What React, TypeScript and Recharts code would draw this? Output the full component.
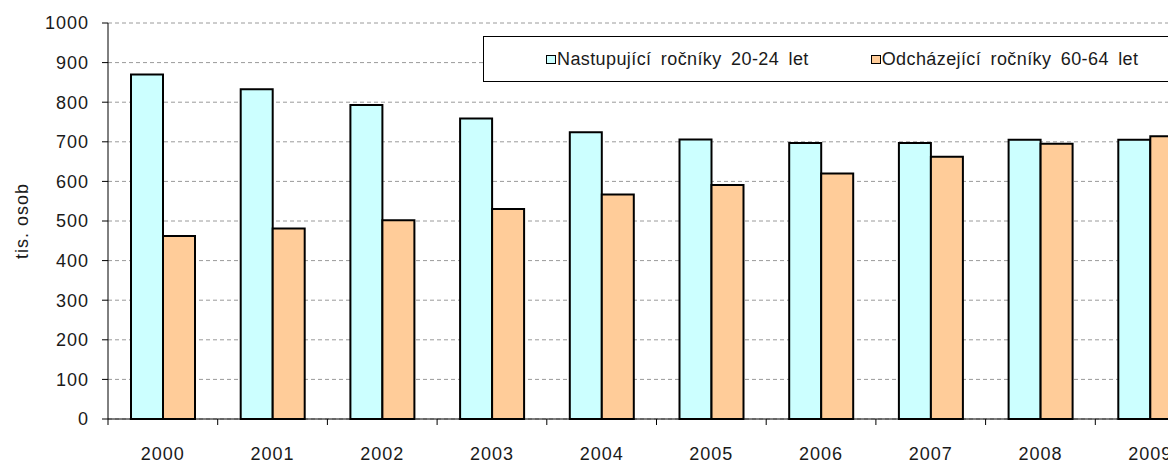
import { BarChart, Bar, XAxis, YAxis, CartesianGrid, Legend } from 'recharts'

const YEARS = ['2000', '2001', '2002', '2003', '2004', '2005', '2006', '2007', '2008', '2009']
const ENTERING = [870, 833, 793, 759, 724, 706, 697, 697, 705, 705]
const LEAVING = [462, 481, 502, 530, 567, 591, 620, 662, 695, 714]
const Y_TICKS = [0, 100, 200, 300, 400, 500, 600, 700, 800, 900, 1000]

const SERIES = [
  { key: 'entering', name: 'Nastupující ročníky 20-24 let', color: '#CCFFFF' },
  { key: 'leaving', name: 'Odcházející ročníky 60-64 let', color: '#FFCC99' },
]

const data = YEARS.map((year, i) => ({ year, entering: ENTERING[i], leaving: LEAVING[i] }))

const FONT = '"Liberation Sans", Arial, sans-serif'
const TEXT = '#1a1a1a'

function YearTick(props: any) {
  const { x, y, payload } = props
  const half = payload?.offset ?? 0
  return (
    <g>
      <line x1={x - half} x2={x - half} y1={y} y2={y + 6} stroke="#000" strokeWidth={1} />
      <text x={x} y={y + 41} textAnchor="middle" fontSize={18} fill={TEXT} fontFamily={FONT} letterSpacing={1}>
        {payload.value}
      </text>
    </g>
  )
}

function LegendBox() {
  return (
    <div
      style={{
        display: 'flex',
        alignItems: 'center',
        height: 44,
        paddingLeft: 62,
        fontFamily: FONT,
        fontSize: 18,
        letterSpacing: 0.4,
        wordSpacing: 4,
        color: TEXT,
      }}
    >
      {SERIES.map((s, i) => (
        <div key={s.key} style={{ display: 'flex', alignItems: 'center', marginRight: i === 0 ? 62 : 0 }}>
          <span
            style={{
              display: 'inline-block',
              width: 8,
              height: 7,
              border: '1.5px solid #000',
              background: s.color,
              marginRight: 1,
            }}
          />
          <span>{s.name}</span>
        </div>
      ))}
    </div>
  )
}

export default function App() {
  return (
    <div
      style={{
        position: 'absolute',
        left: 0,
        top: 0,
        width: 1168,
        height: 460,
        overflow: 'hidden',
        background: '#fff',
      }}
    >
      <BarChart
        width={1240}
        height={480}
        data={data}
        margin={{ top: 23, right: 35, left: 0, bottom: 0 }}
        barGap={0}
        barSize={32}
      >
        <CartesianGrid vertical={false} stroke="#9a9a9a" strokeDasharray="4 3" />
        <XAxis
          dataKey="year"
          height={61}
          interval={0}
          tickSize={0}
          tickMargin={0}
          tickLine={false}
          axisLine={{ stroke: '#000' }}
          tick={<YearTick />}
        />
        <YAxis
          domain={[0, 1000]}
          ticks={Y_TICKS}
          interval={0}
          width={108}
          tickSize={6}
          tickMargin={13}
          axisLine={{ stroke: '#000' }}
          tickLine={{ stroke: '#000' }}
          tick={{ fontSize: 18, fill: TEXT, fontFamily: FONT, letterSpacing: 1 }}
          label={{
            content: (p: any) => {
              const vb = p.viewBox || { x: 0, y: 23, width: 108, height: 396 }
              const cx = vb.x + 22
              const cy = vb.y + vb.height / 2
              return (
                <text
                  x={cx}
                  y={cy}
                  transform={`rotate(-90, ${cx}, ${cy})`}
                  textAnchor="middle"
                  dominantBaseline="central"
                  fontSize={18}
                  fill={TEXT}
                  fontFamily={FONT}
                  letterSpacing={1}
                >
                  tis. osob
                </text>
              )
            },
          }}
        />
        <Legend
          layout="horizontal"
          verticalAlign="middle"
          align="center"
          content={<LegendBox />}
          wrapperStyle={{
            position: 'absolute',
            top: 36,
            left: 483,
            width: 760,
            height: 46,
            border: '1.5px solid #000',
            background: '#fff',
            boxSizing: 'border-box',
          }}
        />
        {SERIES.map(s => (
          <Bar
            key={s.key}
            dataKey={s.key}
            name={s.name}
            fill={s.color}
            stroke="#000"
            strokeWidth={2}
            isAnimationActive={false}
          />
        ))}
      </BarChart>
    </div>
  )
}
